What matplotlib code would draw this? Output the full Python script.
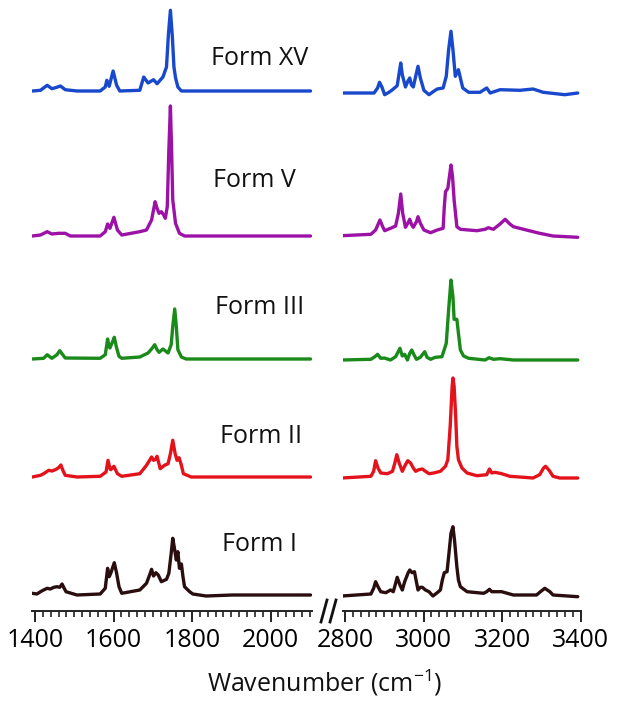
import numpy as np
import matplotlib
matplotlib.use("Agg")
import matplotlib.pyplot as plt
from matplotlib.lines import Line2D

plt.rcParams['font.family'] = ['Open Sans', 'DejaVu Sans']
plt.rcParams['mathtext.fontset'] = 'custom'
plt.rcParams['mathtext.rm'] = 'Open Sans'

forms = ["Form XV", "Form V", "Form III", "Form II", "Form I"]
colors = ["#1848cc", "#9c12a6", "#1a8a1a", "#e3121b", "#2a0e0f"]

# wavenumber / intensity pairs (intensity in arbitrary units)
xv_left_x = [1393, 1414, 1431, 1443, 1452, 1465, 1477, 1507, 1566, 1579, 1583, 1589, 1599, 1608, 1616,
             1667, 1677, 1688, 1702, 1711, 1726, 1735, 1740, 1745, 1750, 1754, 1758, 1764, 1773, 2102]
xv_left_y = [0, 0.7, 5.7, 2.3, 3.3, 5, 1.3, 0, 0, 4, 10.7, 4.7, 20, 5.7, 0,
             0.7, 14, 8, 11.3, 7.3, 14, 24, 57, 80.7, 54, 24, 13.3, 4, 0, 0]
xv_right_x = [2792, 2874, 2883, 2888, 2894, 2901, 2912, 2921, 2933, 2938, 2942, 2946, 2954, 2960, 2965,
              2969, 2974, 2981, 2986, 2992, 3001, 3014, 3026, 3035, 3050, 3058, 3064, 3070, 3075, 3081,
              3089, 3095, 3100, 3115, 3144, 3161, 3170, 3195, 3246, 3279, 3305, 3360, 3393]
xv_right_y = [0, 0, 5, 10.7, 6, -1.7, 0.7, 3.3, 7.3, 20, 30, 18.3, 6, 11.7, 15,
              8.3, 6, 18.3, 26.7, 15, 2.7, -1.7, 1.7, 4, 5, 16.7, 43.3, 61.7, 43.3, 16.7,
              23.3, 13.3, 5, 0.7, 0.7, 5, 0, 3.3, 2.7, 4, 0.7, -1.7, 0]

v_left_x = [1393, 1414, 1431, 1443, 1460, 1477, 1490, 1566, 1579, 1585, 1591, 1601, 1610, 1621,
            1667, 1684, 1697, 1706, 1711, 1716, 1722, 1728, 1732, 1737, 1741, 1745, 1748, 1751, 1758,
            1768, 1781, 2102]
v_left_y = [0, 1, 4.3, 2, 2.7, 2.7, 0, 0, 4.3, 12, 7.7, 18.7, 6, 1,
            4.3, 6, 16, 34.3, 27.7, 22.7, 24.3, 21, 17.7, 29.3, 86, 130, 86, 36, 12.7,
            2.7, 0, 0]
v_right_x = [2792, 2866, 2878, 2889, 2896, 2901, 2916, 2929, 2936, 2942, 2947, 2954, 2960, 2965, 2970,
             2974, 2982, 2986, 2992, 3001, 3018, 3035, 3050, 3053, 3056, 3062, 3066, 3070, 3074, 3078,
             3085, 3094, 3136, 3157, 3165, 3178, 3195, 3208, 3220, 3229, 3262, 3296, 3330, 3393]
v_right_y = [-0.7, 0.7, 5, 15, 8.3, 4.3, 6.7, 9, 21.7, 41, 21.7, 7.7, 11.7, 15.7, 10,
             7.7, 13.3, 18.3, 11.7, 5, 2.3, 5, 6.7, 28.3, 43.3, 46.7, 58.3, 70, 58.3, 35,
             8.3, 5.7, 4.3, 5.7, 7.3, 5.7, 11, 15.7, 11, 8.3, 5, 1.7, -1, -2.3]

iii_left_x = [1393, 1422, 1431, 1443, 1456, 1463, 1477, 1566, 1579, 1585, 1589, 1591, 1598, 1602, 1608,
              1614, 1621, 1667, 1688, 1699, 1705, 1711, 1716, 1726, 1739, 1747, 1751, 1756, 1760, 1764,
              1773, 1785, 2102]
iii_left_y = [0, 0.7, 4.3, 0.7, 4.3, 8.3, 1, 0.7, 4.3, 20, 12, 11, 17.7, 21.7, 11,
              2.7, 0.7, 2, 6, 11, 14.3, 9.3, 6.7, 10, 6, 14.3, 32.7, 50, 32.7, 9.3,
              2, 0, 0]
iii_right_x = [2792, 2866, 2876, 2883, 2891, 2900, 2908, 2916, 2929, 2940, 2946, 2952, 2959, 2965, 2970,
               2976, 2982, 2992, 3003, 3009, 3018, 3030, 3047, 3058, 3064, 3070, 3075, 3078, 3085, 3089,
               3094, 3102, 3115, 3157, 3167, 3178, 3195, 3229, 3393]
iii_right_y = [0, 0.7, 3.3, 5.7, 1.7, 2, 1, 0, 3.3, 11.7, 4, 5.7, 0, 6.7, 10,
               5, 0.7, 2.7, 8.3, 2.7, 0.7, 2.7, 3.3, 16.7, 50, 80, 63.3, 40.7, 40.7, 26.7,
               10, 4, 1.7, 0, 2.3, 0.7, 1.3, 0, 0]

ii_left_x = [1393, 1414, 1422, 1435, 1443, 1452, 1460, 1466, 1471, 1477, 1507, 1566, 1581, 1586, 1591,
             1593, 1601, 1610, 1621, 1667, 1684, 1692, 1697, 1702, 1707, 1711, 1719, 1730, 1739, 1745,
             1751, 1757, 1762, 1767, 1773, 1778, 1798, 2102]
ii_left_y = [0, 1.7, 3.3, 6.7, 6, 7.3, 9.3, 12, 6.7, 1.7, 0, 0.7, 5, 16.7, 8.3,
             7.3, 10.7, 3.3, 0.7, 3.3, 11.7, 16.7, 20, 16.7, 17.7, 20.7, 8.3, 11.7, 13.3, 23.3,
             36.7, 23.3, 16.7, 19.3, 11.7, 3.3, 0, 0]
ii_right_x = [2792, 2866, 2873, 2878, 2884, 2891, 2908, 2921, 2927, 2932, 2938, 2946, 2954, 2960, 2967,
              2974, 2980, 2988, 2997, 3005, 3014, 3026, 3043, 3056, 3062, 3068, 3073, 3075, 3078, 3082,
              3085, 3089, 3098, 3111, 3136, 3161, 3168, 3174, 3182, 3199, 3220, 3279, 3296, 3306, 3311,
              3320, 3330, 3347, 3393]
ii_right_y = [0, 1.7, 6.7, 17.3, 10, 5, 4.3, 6.7, 15, 23.3, 15, 6.7, 13.3, 17.3, 15,
              10, 6.7, 8.3, 9, 6.7, 4.3, 5, 6.7, 11.7, 18.3, 51.7, 91.7, 100, 91.7, 61.7,
              31.7, 18.3, 10, 5, 2.3, 3.3, 9, 5, 5.7, 4.3, 1.7, 0, 3.3, 10, 11.7,
              7.7, 1.7, 0, 0]

i_left_x = [1393, 1405, 1414, 1422, 1431, 1439, 1448, 1456, 1463, 1469, 1473, 1479, 1507, 1566, 1579,
            1585, 1589, 1593, 1602, 1608, 1614, 1621, 1667, 1684, 1692, 1697, 1702, 1708, 1714, 1722,
            1735, 1741, 1747, 1751, 1756, 1760, 1764, 1768, 1773, 1777, 1781, 1794, 1802, 1836, 1903,
            2102]
i_left_y = [0.7, 0, 2.3, 4, 5.7, 5, 6.7, 7.3, 6.7, 10, 6.7, 2.3, -1, 0, 5.7,
            25.7, 17.3, 20.7, 31.3, 20.7, 7.3, 0.7, 4, 10.7, 19, 24.7, 18, 21.3, 19, 12.3,
            14.7, 20.7, 40.7, 55.7, 44, 34, 42.3, 25.7, 30, 17.3, 7.3, 2.3, 0, -2, -1,
            -1]
i_right_x = [2792, 2866, 2873, 2878, 2884, 2891, 2904, 2916, 2923, 2929, 2933, 2940, 2946, 2952, 2957,
             2961, 2965, 2971, 2977, 2981, 2986, 2992, 2997, 3005, 3014, 3024, 3035, 3043, 3048, 3053,
             3060, 3064, 3070, 3075, 3079, 3085, 3089, 3094, 3111, 3153, 3161, 3168, 3174, 3199, 3229,
             3288, 3298, 3309, 3322, 3330, 3393]
i_right_y = [0, 2, 7.7, 14.3, 9.3, 4.3, 3.3, 6, 4.3, 12.7, 18.7, 11, 6, 14.3, 19.3,
             23.3, 26, 23.3, 24.3, 16, 6, 8.7, 8.7, 6, 4.3, 0, 3.3, 6, 16, 23.3,
             24.3, 39.3, 62.7, 69.3, 56, 29.3, 16, 9.3, 4.3, 2.7, 4.3, 6.7, 4.3, 4.3, 1,
             1, 4.3, 7.7, 4.3, 1, -0.7]

left_x = [xv_left_x, v_left_x, iii_left_x, ii_left_x, i_left_x]
left_y = [xv_left_y, v_left_y, iii_left_y, ii_left_y, i_left_y]
right_x = [xv_right_x, v_right_x, iii_right_x, ii_right_x, i_right_x]
right_y = [xv_right_y, v_right_y, iii_right_y, ii_right_y, i_right_y]

# vertical stacking offsets
left_off = [520, 375, 252, 134, 17]
right_off = [518, 376, 251, 133, 15]

W, H = 623, 709
fig = plt.figure(figsize=(W / 100, H / 100), dpi=100)
scale = 0.3925  # px per cm-1
ax1 = fig.add_axes([(35 - 7 * scale) / W, (H - 611) / H, 713 * scale / W, 611 / H])
ax2 = fig.add_axes([(345 - 5 * scale) / W, (H - 611) / H, 605 * scale / W, 611 / H])

for i in range(5):
    ax1.plot(left_x[i], np.array(left_y[i]) + left_off[i], color=colors[i], lw=2.4,
             solid_joinstyle='round', solid_capstyle='round')
    ax2.plot(right_x[i], np.array(right_y[i]) + right_off[i], color=colors[i], lw=2.4,
             solid_joinstyle='round', solid_capstyle='round')

ax1.set_xlim(1393, 2106)
ax2.set_xlim(2795, 3400)
for ax in (ax1, ax2):
    ax.set_ylim(0, 611)
    ax.patch.set_visible(False)
    for s in ['top', 'left', 'right']:
        ax.spines[s].set_visible(False)
    ax.spines['bottom'].set_linewidth(1.4)
    ax.spines['bottom'].set_color('#222222')
    ax.set_yticks([])
    ax.tick_params(axis='x', which='major', length=8, width=1.4, color='#222222',
                   labelsize=18, pad=4)
    ax.tick_params(axis='x', which='minor', length=4.5, width=1.2, color='#222222')
ax1.set_xticks([1400, 1600, 1800, 2000])
ax1.set_xticks(np.arange(1400, 2107, 20), minor=True)
ax2.set_xticks([2800, 3000, 3200, 3400])
ax2.set_xticks(np.arange(2800, 3401, 20), minor=True)

# form names
label_x = [1973, 1958, 1972, 1977, 1972]
label_y = [546, 424, 297, 168, 60]
for i in range(5):
    ax1.text(label_x[i], label_y[i], forms[i], fontsize=18, ha='center', va='baseline', color='#111111')

# axis break marks
for x0, x1 in [(321, 327), (330, 336)]:
    fig.add_artist(Line2D([x0 / W, x1 / W], [1 - 622 / H, 1 - 600 / H],
                          color='#111111', lw=2, transform=fig.transFigure))

fig.text(325 / W, 1 - 692 / H, 'Wavenumber (cm$^{-1}$)', fontsize=18,
         ha='center', va='baseline', color='#111111')

fig.savefig('out.png', dpi=100)
